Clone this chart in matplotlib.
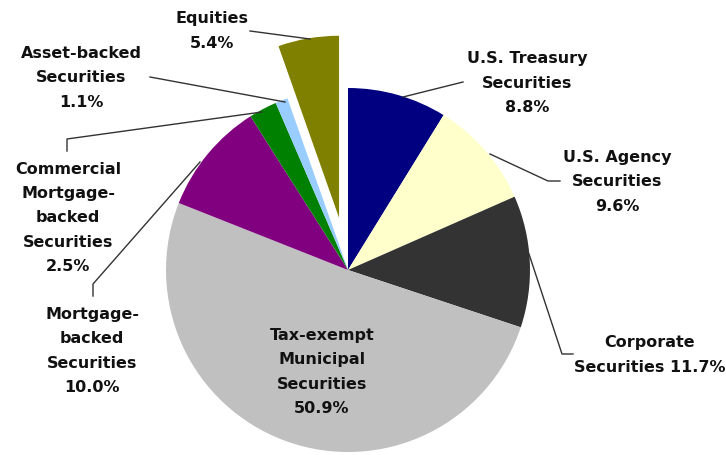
import matplotlib
matplotlib.use("Agg")
import matplotlib.pyplot as plt

# ---- data ----
categories = ["U.S. Treasury\nSecurities", "U.S. Agency\nSecurities", "Corporate\nSecurities",
              "Tax-exempt\nMunicipal\nSecurities", "Mortgage-\nbacked\nSecurities",
              "Commercial\nMortgage-\nbacked\nSecurities", "Asset-backed\nSecurities", "Equities"]
values = [8.8, 9.6, 11.7, 50.9, 10.0, 2.5, 1.1, 5.4]
colors = ["#000080", "#FFFFCC", "#333333", "#C0C0C0", "#800080", "#008000", "#99CCFF", "#808000"]
explode_px = [0, 0, 0, 0, 0, 0, 0, 53]

W, H = 726, 456
fig = plt.figure(figsize=(W / 100, H / 100), dpi=100)
ax = fig.add_axes([0, 0, 1, 1])

def Y(y):
    return H - y

cx, cy, R = 348, Y(271), 182
ax.pie(values, colors=colors, startangle=90, counterclock=False, radius=R,
       center=(cx, cy), explode=explode_px, wedgeprops=dict(linewidth=0))

ax.set_xlim(0, W)
ax.set_ylim(0, H)
ax.set_aspect("equal")
ax.axis("off")

# label text
def lab(i):
    cat = categories[i]
    pct = f"{values[i]:.1f}%"
    if i == 2:
        return cat + " " + pct
    return cat + "\n" + pct

label_pos = [(527, 83), (617, 182), (650, 355), (322, 372), (92, 351), (68, 218), (81, 78), (212, 31)]
for i, (x, y) in enumerate(label_pos):
    ax.text(x, Y(y), lab(i), ha="center", va="center", fontsize=11.5, fontweight="bold",
            color="#111111", linespacing=1.76, family="DejaVu Sans")

leaders = [
    [(463, 83), (403, 98)],
    [(560, 182), (548, 182), (490, 155)],
    [(573, 355), (562, 355), (529, 255)],
    [(93, 297), (93, 285), (200, 163)],
    [(67, 152), (67, 140), (262, 113)],
    [(150, 78), (285, 103)],
    [(250, 32), (310, 40)],
]
for pts in leaders:
    xs = [p[0] for p in pts]
    ys = [Y(p[1]) for p in pts]
    ax.plot(xs, ys, color="#333333", lw=1)

fig.savefig("out.png", dpi=100)
